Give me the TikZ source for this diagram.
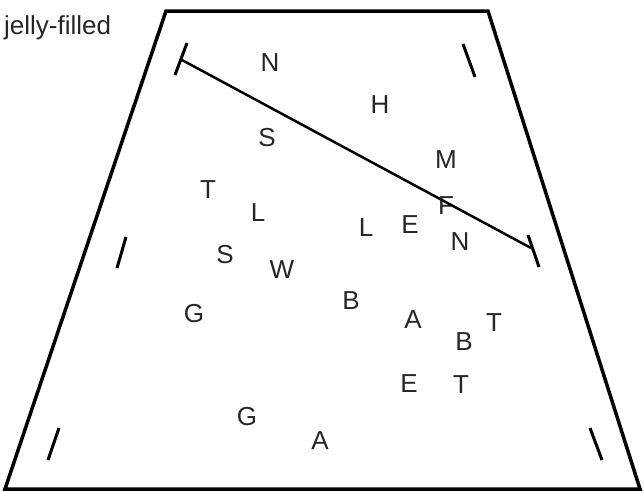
\documentclass[tikz,border=0pt]{standalone}
\usepackage{fontspec}
\setmainfont{Liberation Sans}
\begin{document}
\begin{tikzpicture}[x=1pt,y=-1pt,
  lbl/.style={inner sep=0pt, anchor=base, font=\fontsize{26}{30}\selectfont, text=black!85},
  frame/.style={line width=3.5pt, line join=miter},
  tick/.style={line width=3pt},
  conn/.style={line width=2.5pt}]
\useasboundingbox (0,0) rectangle (644,491);
\draw[frame] (166,11) -- (488,11) -- (640,489) -- (5,489) -- cycle;
% corner ticks
\draw[tick] (187,43) -- (175,75);
\draw[tick] (463,44) -- (475,77);
\draw[tick] (126,237) -- (117,268);
\draw[tick] (528,235) -- (539,267);
\draw[tick] (59,428) -- (48,460);
\draw[tick] (590,428) -- (602,460);
% label
\node[lbl, anchor=base west] (title) at (4,34) {jelly-filled};
% letters (baseline = centre + 9)
\node[lbl] (n1) at (270,71) {N};
\node[lbl] (h1) at (380,113) {H};
\node[lbl] (s1) at (267,146) {S};
\node[lbl] (m1) at (446,168) {M};
\node[lbl] (t1) at (208,198) {T};
\node[lbl] (l1) at (258,221) {L};
\node[lbl] (f1) at (446,214) {F};
\node[lbl] (l2) at (366,236) {L};
\node[lbl] (e1) at (410,233) {E};
\node[lbl] (n2) at (460,250) {N};
\node[lbl] (s2) at (225,263) {S};
\node[lbl] (w1) at (282,278) {W};
\node[lbl] (b1) at (351,309) {B};
\node[lbl] (g1) at (194,322) {G};
\node[lbl] (a1) at (413,328) {A};
\node[lbl] (t2) at (494,331) {T};
\node[lbl] (b2) at (464,350) {B};
\node[lbl] (e2) at (409,392) {E};
\node[lbl] (t3) at (461,393) {T};
\node[lbl] (g2) at (247,425) {G};
\node[lbl] (a2) at (320,449) {A};
% connector
\coordinate (p) at (182,60);
\coordinate (q) at (531,248);
\draw[conn] (p) -- (q);
\end{tikzpicture}
\end{document}
